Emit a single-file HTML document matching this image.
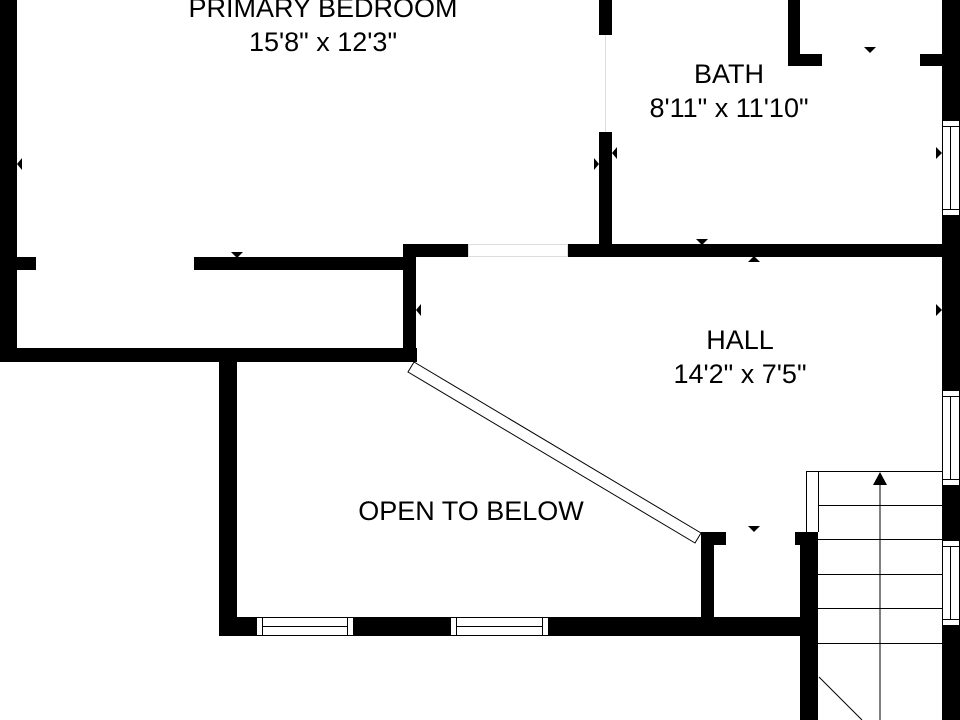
<!DOCTYPE html>
<html><head><meta charset="utf-8"><style>
html,body{margin:0;padding:0;background:#fff;}
svg{display:block;}
text{font-family:"Liberation Sans",sans-serif;font-size:27px;fill:#000;text-anchor:middle;}
</style></head><body>
<svg width="960" height="720" viewBox="0 0 960 720" xmlns="http://www.w3.org/2000/svg">
<rect width="960" height="720" fill="#fff"/>
<g fill="#000">
<rect x="0" y="0" width="17" height="362"/>
<rect x="0" y="348" width="417" height="14"/>
<rect x="17" y="257" width="19" height="13"/>
<rect x="194" y="257" width="222" height="13"/>
<rect x="403" y="244" width="13" height="118"/>
<rect x="403" y="244" width="65" height="13"/>
<rect x="567" y="244" width="393" height="13"/>
<rect x="599" y="0" width="13" height="35"/>
<rect x="599" y="132" width="13" height="120"/>
<rect x="788" y="0" width="12" height="66"/>
<rect x="788" y="54" width="34" height="12"/>
<rect x="920" y="54" width="25" height="12"/>
<rect x="942" y="0" width="18" height="120"/>
<rect x="942" y="215" width="18" height="175"/>
<rect x="942" y="485" width="18" height="55"/>
<rect x="942" y="625" width="18" height="95"/>
<rect x="219" y="362" width="18" height="274"/>
<rect x="219" y="617" width="37" height="19"/>
<rect x="353" y="617" width="97" height="19"/>
<rect x="548" y="617" width="270" height="19"/>
<rect x="701" y="532" width="13" height="90"/>
<rect x="701" y="532" width="25" height="13"/>
<rect x="795" y="532" width="23" height="13"/>
<rect x="800" y="532" width="18" height="188"/>
<polygon points="864,47 876,47 870,53"/>
<polygon points="231,252 243,252 237,258"/>
<polygon points="696,239 708,239 702,245"/>
<polygon points="748,262 760,262 754,256"/>
<polygon points="748,526 760,526 754,532"/>
<polygon points="22,158 22,170 17,164"/>
<polygon points="594,158 594,170 599,164"/>
<polygon points="617,147 617,159 612,153"/>
<polygon points="936,147 936,159 942,153"/>
<polygon points="421,304 421,316 416,310"/>
<polygon points="936,304 936,316 942,310"/>
</g>
<g fill="none" stroke="#000" stroke-width="1">
<rect x="468.5" y="244.5" width="99" height="12" stroke="#ddd"/>
<line x1="605.5" y1="35" x2="605.5" y2="132" stroke="#ddd"/>
<rect x="942.5" y="120.5" width="17" height="95"/><line x1="950.5" y1="126" x2="950.5" y2="209"/>
<line x1="942" y1="126.5" x2="960" y2="126.5"/><line x1="942" y1="209.5" x2="960" y2="209.5"/>
<rect x="942.5" y="390.5" width="17" height="95"/><line x1="950.5" y1="396" x2="950.5" y2="479"/>
<line x1="942" y1="396.5" x2="960" y2="396.5"/><line x1="942" y1="479.5" x2="960" y2="479.5"/>
<rect x="942.5" y="540.5" width="17" height="85"/><line x1="950.5" y1="546" x2="950.5" y2="619"/>
<line x1="942" y1="546.5" x2="960" y2="546.5"/><line x1="942" y1="619.5" x2="960" y2="619.5"/>
<rect x="256.5" y="617.5" width="97" height="18"/><line x1="262" y1="626.5" x2="348" y2="626.5"/>
<line x1="262.5" y1="617" x2="262.5" y2="636"/><line x1="347.5" y1="617" x2="347.5" y2="636"/>
<rect x="450.5" y="617.5" width="98" height="18"/><line x1="456" y1="626.5" x2="543" y2="626.5"/>
<line x1="456.5" y1="617" x2="456.5" y2="636"/><line x1="542.5" y1="617" x2="542.5" y2="636"/>
<polygon points="414,362 701,533 695,543 408,372"/>
<polyline points="806.5,532 806.5,471.5 942,471.5"/>
<line x1="818.5" y1="471" x2="818.5" y2="532"/>
<line x1="818" y1="505.5" x2="942" y2="505.5"/>
<line x1="818" y1="539.5" x2="942" y2="539.5"/>
<line x1="818" y1="574.5" x2="942" y2="574.5"/>
<line x1="818" y1="608.5" x2="942" y2="608.5"/>
<line x1="818" y1="643.5" x2="942" y2="643.5"/>
<line x1="880" y1="480" x2="880" y2="720"/>
<line x1="819" y1="677" x2="862" y2="720"/>
</g>
<polygon points="873,485 887,485 880,472" fill="#000"/>
<text x="323" y="17">PRIMARY BEDROOM</text>
<text x="323" y="51">15'8" x 12'3"</text>
<text x="729" y="83">BATH</text>
<text x="729" y="117">8'11" x 11'10"</text>
<text x="740" y="349">HALL</text>
<text x="740" y="383">14'2" x 7'5"</text>
<text x="471" y="520">OPEN TO BELOW</text>
</svg>
</body></html>
